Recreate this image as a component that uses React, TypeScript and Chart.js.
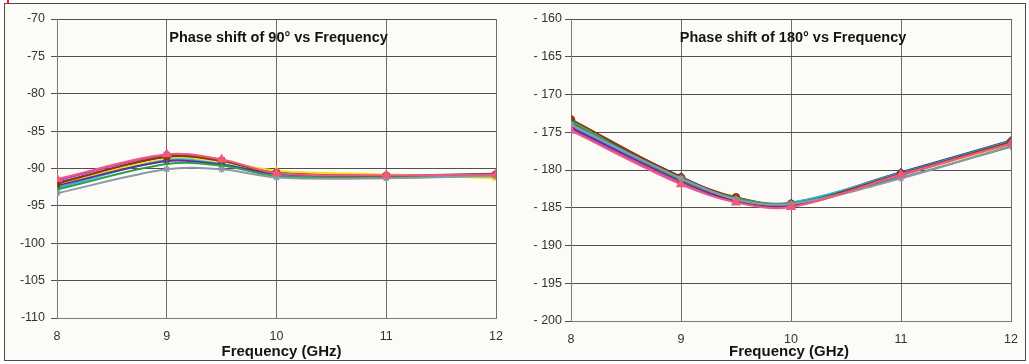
import React, { useEffect, useRef } from "react";
import { Chart, registerables } from "chart.js";

Chart.register(...registerables);

// Frequency points (GHz)
const frequencies = [8, 9, 9.5, 10, 11, 12];

// Phase shift of 90° (degrees) — one array per measured state
const p90_s1 = [-91.9, -88.5, -89.0, -90.5, -90.9, -90.7];
const p90_s2 = [-91.6, -88.2, -88.9, -90.6, -91.0, -90.8];
const p90_s3 = [-92.1, -88.7, -89.1, -90.3, -90.8, -91.3];
const p90_s4 = [-92.6, -88.9, -89.4, -90.8, -91.1, -90.9];
const p90_s5 = [-92.3, -89.0, -89.5, -90.7, -91.0, -90.8];
const p90_s6 = [-92.0, -88.4, -89.0, -90.6, -91.0, -90.8];
const p90_s7 = [-92.8, -89.4, -89.6, -91.0, -91.2, -90.9];
const p90_s8 = [-93.3, -90.1, -90.1, -91.2, -91.3, -91.0];
const p90_s9 = [-91.4, -88.1, -88.8, -90.6, -90.9, -90.8];

// Phase shift of 180° (degrees)
const p180_s1 = [-173.8, -180.9, -183.8, -184.4, -180.3, -176.1];
const p180_s2 = [-174.6, -181.8, -184.2, -184.8, -180.7, -176.5];
const p180_s3 = [-174.0, -181.4, -184.0, -184.6, -180.6, -176.6];
const p180_s4 = [-174.2, -181.2, -183.9, -184.3, -180.4, -176.2];
const p180_s5 = [-174.4, -181.5, -184.1, -184.7, -180.6, -176.4];
const p180_s6 = [-173.3, -181.0, -183.6, -184.5, -180.5, -176.3];
const p180_s7 = [-173.6, -181.3, -183.7, -184.4, -181.0, -176.9];
const p180_s8 = [-174.0, -181.1, -183.9, -184.5, -181.1, -176.8];
const p180_s9 = [-174.8, -181.9, -184.3, -184.9, -180.6, -176.5];

const series90 = [p90_s1, p90_s2, p90_s3, p90_s4, p90_s5, p90_s6, p90_s7, p90_s8, p90_s9];
const series180 = [p180_s1, p180_s2, p180_s3, p180_s4, p180_s5, p180_s6, p180_s7, p180_s8, p180_s9];

const seriesNames = ["State 1", "State 2", "State 3", "State 4", "State 5", "State 6", "State 7", "State 8", "State 9"];
const seriesColors = ["#1f3c8c", "#c83cc8", "#f2e21c", "#2cb4e6", "#6a2c9a", "#8a3a10", "#2aa048", "#8c98a8", "#ee5a7e"];
const seriesMarkers: any[] = ["rectRot", "rect", "triangle", "crossRot", "star", "circle", "cross", "star", "triangle"];

const xTicks = [8, 9, 10, 11, 12];
const yTicks90 = [-70, -75, -80, -85, -90, -95, -100, -105, -110];
const yTicks180 = [-160, -165, -170, -175, -180, -185, -190, -195, -200];

const FONT = '"Liberation Sans", Arial, Helvetica, sans-serif';

function makeTextPlugin(title: string, xTitle: string, xTitleDx: number) {
  return {
    id: "inlineTexts",
    afterDraw(chart: any) {
      const ctx = chart.ctx;
      const a = chart.chartArea;
      const cx = (a.left + a.right) / 2;
      ctx.save();
      ctx.fillStyle = "#141414";
      ctx.textAlign = "center";
      ctx.textBaseline = "middle";
      ctx.font = `bold 14.5px ${FONT}`;
      ctx.fillText(title, cx + 2, 38);
      ctx.font = `bold 15px ${FONT}`;
      ctx.fillText(xTitle, cx + xTitleDx, 352);
      ctx.restore();
    },
  };
}

type PanelProps = {
  left: number;
  width: number;
  yAxisWidth: number;
  plotBottom: number;
  rightPad: number;
  yMin: number;
  yMax: number;
  yTickValues: number[];
  data: number[][];
  title: string;
  labelFmt: (v: number) => string;
  labelPad: number;
  xTitleDx: number;
};

function Panel(p: PanelProps) {
  const ref = useRef<HTMLCanvasElement>(null);
  useEffect(() => {
    const canvas = ref.current!;
    const n = p.data.length;
    const datasets = p.data.map((vals, i) => ({
      label: seriesNames[i],
      data: vals.map((v, j) => ({ x: frequencies[j], y: v })),
      borderColor: seriesColors[i],
      backgroundColor: seriesColors[i],
      borderWidth: 2,
      pointStyle: seriesMarkers[i],
      pointRadius: i === n - 1 ? 4.5 : 3.5,
      pointBorderWidth: 1.5,
      tension: 0.35,
      fill: false,
      order: n - i,
    }));
    const chart = new Chart(canvas, {
      type: "line",
      data: { datasets },
      options: {
        animation: false,
        responsive: false,
        devicePixelRatio: 1,
        layout: { padding: { top: 19, right: p.rightPad, left: 0, bottom: 0 } },
        plugins: { legend: { display: false }, tooltip: { enabled: false }, title: { display: false } },
        scales: {
          x: {
            type: "linear",
            min: 8,
            max: 12,
            afterFit: (s: any) => {
              s.height = 364 - p.plotBottom;
            },
            afterBuildTicks: (s: any) => {
              s.ticks = xTicks.map((v) => ({ value: v }));
            },
            grid: { color: "#6e6e6e", lineWidth: 1, drawTicks: false },
            border: { color: "#7a7a7a", width: 1 },
            ticks: {
              color: "#333",
              font: { family: FONT, size: 12.5 },
              padding: 11,
              maxRotation: 0,
              autoSkip: false,
            },
          },
          y: {
            type: "linear",
            min: p.yMin,
            max: p.yMax,
            afterFit: (s: any) => {
              s.width = p.yAxisWidth;
            },
            afterBuildTicks: (s: any) => {
              s.ticks = p.yTickValues.map((v) => ({ value: v }));
            },
            grid: { color: "#505050", lineWidth: 1, drawTicks: true, tickLength: 6 },
            border: { color: "#7a7a7a", width: 1 },
            ticks: {
              color: "#333",
              font: { family: FONT, size: 12.5 },
              padding: p.labelPad,
              autoSkip: false,
              callback: (v: any) => p.labelFmt(Number(v)),
            },
          },
        },
      },
      plugins: [makeTextPlugin(p.title, "Frequency (GHz)", p.xTitleDx)],
    } as any);
    return () => chart.destroy();
  }, []);
  return (
    <canvas
      ref={ref}
      width={p.width}
      height={364}
      style={{ position: "absolute", left: p.left, top: 0, width: p.width, height: 364 }}
    />
  );
}

export default function App() {
  return (
    <div style={{ position: "absolute", left: 0, top: 0, width: 1029, height: 364, background: "#ffffff", overflow: "hidden" }}>
      <div
        style={{
          position: "absolute",
          left: 4,
          top: 3,
          width: 1020,
          height: 356,
          border: "1.5px solid #4a4a4a",
          background: "#fcfbf8",
        }}
      />
      <div style={{ position: "absolute", left: 7, top: 0, width: 2, height: 4, background: "#e02020" }} />
      <Panel
        left={0}
        width={520}
        yAxisWidth={57}
        plotBottom={318}
        rightPad={24}
        yMin={-110}
        yMax={-70}
        yTickValues={yTicks90}
        data={series90}
        title="Phase shift of 90° vs Frequency"
        labelFmt={(v) => String(v)}
        labelPad={6}
        xTitleDx={5}
      />
      <Panel
        left={520}
        width={509}
        yAxisWidth={51}
        plotBottom={321}
        rightPad={10}
        yMin={-200}
        yMax={-160}
        yTickValues={yTicks180}
        data={series180}
        title="Phase shift of 180° vs Frequency"
        labelFmt={(v) => "- " + Math.abs(v)}
        labelPad={3}
        xTitleDx={-2}
      />
    </div>
  );
}
